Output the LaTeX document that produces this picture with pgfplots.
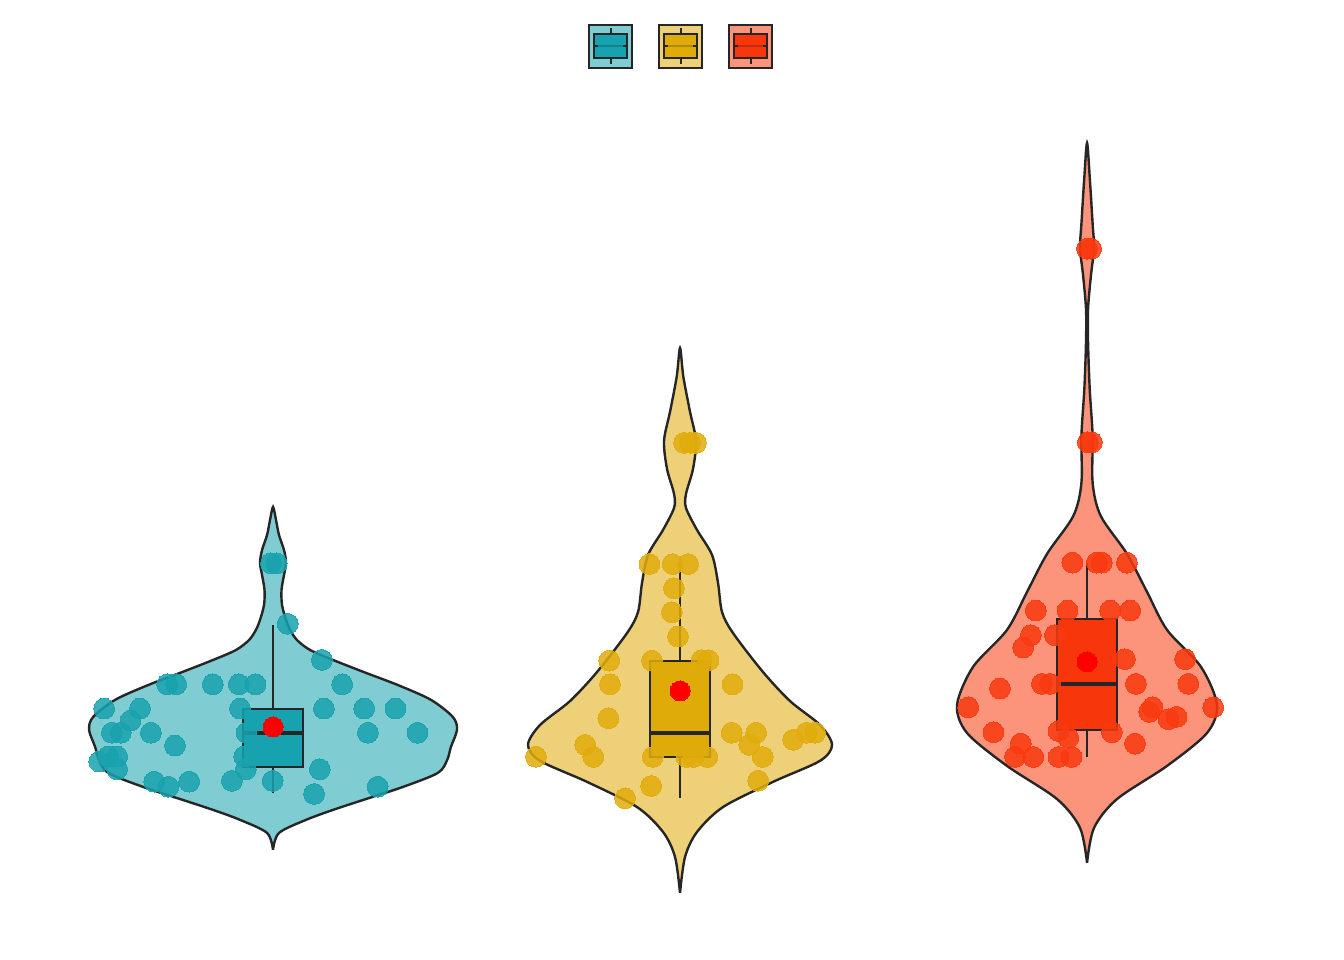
\documentclass[border=0pt]{standalone}
\usepackage{pgfplots}
\pgfplotsset{compat=1.18}
\definecolor{bV}{HTML}{7FCCD2}
\definecolor{bB}{HTML}{16A2AE}
\definecolor{bP}{HTML}{18A2AE}
\definecolor{yV}{HTML}{EED078}
\definecolor{yB}{HTML}{DFAB09}
\definecolor{yP}{HTML}{E0AC0C}
\definecolor{rV}{HTML}{FB947A}
\definecolor{rB}{HTML}{F8360C}
\definecolor{rP}{HTML}{F83A0E}
\definecolor{dk}{HTML}{262626}
\begin{document}
\begin{tikzpicture}
\begin{axis}[scale only axis, width=672pt, height=480pt, hide axis,
 xmin=0.3292, xmax=3.6314, ymin=-6.39, ymax=33.28, clip=false,
 legend columns=3,
 legend style={draw=none, fill=none, at={(0.5125,0.952)}, anchor=center, column sep=4.25pt},
 violin/.style={smooth, draw=dk, line width=1.2pt},
 pts/.style={only marks, mark=*, mark size=5.2pt, mark options={draw=#1, fill=#1, line width=0pt, opacity=0.85}},
 bxs/.style={draw=dk, line width=1.1pt},
 wsk/.style={draw=dk, line width=1.1pt},
 med/.style={draw=dk, line width=2pt}
]
% legend images
\addlegendimage{legend image code/.code={
 \draw[fill=bV,draw=dk,line width=1pt] (0pt,-10.75pt) rectangle (21.5pt,10.75pt);
 \draw[fill=bB,draw=dk,line width=1pt] (2.3pt,-5.8pt) rectangle (19.2pt,5.8pt);
 \draw[dk,line width=1pt] (10.75pt,5.8pt) -- (10.75pt,9.2pt) (10.75pt,-5.8pt) -- (10.75pt,-9.2pt);
 \draw[bB!80!black,line width=1.2pt] (2.3pt,0pt) -- (19.2pt,0pt);
 \draw[dk,line width=1.4pt] (2.3pt,0pt) -- (4.5pt,0pt) (17pt,0pt) -- (19.2pt,0pt);
}}
\addlegendentry{\hbox{}}
\addlegendimage{legend image code/.code={
 \draw[fill=yV,draw=dk,line width=1pt] (0pt,-10.75pt) rectangle (21.5pt,10.75pt);
 \draw[fill=yB,draw=dk,line width=1pt] (2.3pt,-5.8pt) rectangle (19.2pt,5.8pt);
 \draw[dk,line width=1pt] (10.75pt,5.8pt) -- (10.75pt,9.2pt) (10.75pt,-5.8pt) -- (10.75pt,-9.2pt);
 \draw[yB!80!black,line width=1.2pt] (2.3pt,0pt) -- (19.2pt,0pt);
 \draw[dk,line width=1.4pt] (2.3pt,0pt) -- (4.5pt,0pt) (17pt,0pt) -- (19.2pt,0pt);
}}
\addlegendentry{\hbox{}}
\addlegendimage{legend image code/.code={
 \draw[fill=rV,draw=dk,line width=1pt] (0pt,-10.75pt) rectangle (21.5pt,10.75pt);
 \draw[fill=rB,draw=dk,line width=1pt] (2.3pt,-5.8pt) rectangle (19.2pt,5.8pt);
 \draw[dk,line width=1pt] (10.75pt,5.8pt) -- (10.75pt,9.2pt) (10.75pt,-5.8pt) -- (10.75pt,-9.2pt);
 \draw[rB!80!black,line width=1.2pt] (2.3pt,0pt) -- (19.2pt,0pt);
 \draw[dk,line width=1.4pt] (2.3pt,0pt) -- (4.5pt,0pt) (17pt,0pt) -- (19.2pt,0pt);
}}
\addlegendentry{\hbox{}}

% violins
\addplot[violin, fill=bV, forget plot] coordinates {
(1,-1.84)(1.0147,-1.14)(1.081,-0.60)(1.147,-0.19)(1.221,0.22)(1.319,0.76)(1.405,1.34)(1.428,1.88)(1.437,2.41)(1.452,3.12)(1.442,3.65)(1.388,4.36)(1.307,4.97)(1.229,5.47)(1.147,6.01)(1.091,6.42)(1.059,6.83)(1.042,7.25)(1.032,7.66)(1.0221,8.28)(1.0209,8.90)(1.027,9.52)(1.032,10.02)(1.027,10.55)(1.0147,11.17)(1.0074,11.79)(1,12.33)
(0.9926,11.79)(0.9853,11.17)(0.973,10.55)(0.968,10.02)(0.973,9.52)(0.9791,8.90)(0.9779,8.28)(0.968,7.66)(0.958,7.25)(0.941,6.83)(0.909,6.42)(0.853,6.01)(0.771,5.47)(0.693,4.97)(0.612,4.36)(0.558,3.65)(0.548,3.12)(0.563,2.41)(0.572,1.88)(0.595,1.34)(0.681,0.76)(0.779,0.22)(0.853,-0.19)(0.919,-0.60)(0.9853,-1.14)(1,-1.84)};
\addplot[violin, fill=yV, forget plot] coordinates {
(2,-3.62)(2.0123,-2.13)(2.0418,-1.10)(2.1057,-0.07)(2.2285,0.97)(2.344,1.84)(2.3735,2.50)(2.344,3.32)(2.2703,4.31)(2.2039,5.51)(2.1302,7.12)(2.1032,7.99)(2.0934,9.19)(2.0786,10.35)(2.0418,11.38)(2.0147,12.29)(2.0147,12.87)(2.0319,13.90)(2.0393,15.06)(2.0246,16.26)(2.0081,17.72)(2,18.90)
(1.9919,17.72)(1.9754,16.26)(1.9607,15.06)(1.9681,13.90)(1.9853,12.87)(1.9853,12.29)(1.9582,11.38)(1.9214,10.35)(1.9066,9.19)(1.8968,7.99)(1.8698,7.12)(1.7961,5.51)(1.7297,4.31)(1.656,3.32)(1.6265,2.50)(1.656,1.84)(1.7715,0.97)(1.8943,-0.07)(1.9582,-1.10)(1.9877,-2.13)(2,-3.62)};
\addplot[violin, fill=rV, forget plot] coordinates {
(3,-2.38)(3.0172,-0.93)(3.0737,0.26)(3.1966,1.63)(3.2948,2.99)(3.3194,4.15)(3.2801,5.72)(3.1966,7.25)(3.1474,8.82)(3.0983,10.39)(3.0337,11.96)(3.0138,13.32)(3.0138,15.26)(3.0066,17.21)(3.0025,19.15)(3.0025,20.51)(3.0098,21.92)(3.0172,23.03)(3.0138,24.02)(3.0066,25.97)(3,27.37)
(2.9934,25.97)(2.9862,24.02)(2.9828,23.03)(2.9902,21.92)(2.9975,20.51)(2.9975,19.15)(2.9934,17.21)(2.9862,15.26)(2.9862,13.32)(2.9663,11.96)(2.9017,10.39)(2.8526,8.82)(2.8034,7.25)(2.7199,5.72)(2.6806,4.15)(2.7052,2.99)(2.8034,1.63)(2.9263,0.26)(2.9828,-0.93)(3,-2.38)};

% box plots: whiskers, boxes, medians
\addplot[wsk, forget plot] coordinates {(1,0.50)(1,1.59)};
\addplot[wsk, forget plot] coordinates {(1,3.98)(1,7.45)};
\addplot[wsk, forget plot] coordinates {(2,0.30)(2,2.0)};
\addplot[wsk, forget plot] coordinates {(2,5.97)(2,10.0)};
\addplot[wsk, forget plot] coordinates {(3,2.0)(3,3.12)};
\addplot[wsk, forget plot] coordinates {(3,7.70)(3,10.0)};
\addplot[bxs, fill=bB, forget plot] coordinates {(0.9263,1.59)(1.0737,1.59)(1.0737,3.98)(0.9263,3.98)} -- cycle;
\addplot[bxs, fill=yB, forget plot] coordinates {(1.9263,2.0)(2.0737,2.0)(2.0737,5.97)(1.9263,5.97)} -- cycle;
\addplot[bxs, fill=rB, forget plot] coordinates {(2.9263,3.12)(3.0737,3.12)(3.0737,7.70)(2.9263,7.70)} -- cycle;
\addplot[med, forget plot] coordinates {(0.9263,3.0)(1.0737,3.0)};
\addplot[med, forget plot] coordinates {(1.9263,3.0)(2.0737,3.0)};
\addplot[med, forget plot] coordinates {(2.9263,5.0)(3.0737,5.0)};

% jittered points
\addplot[pts=bP, forget plot] coordinates {
(1.009,10.0)(0.995,10.0)(1.036,7.50)(1.120,6.01)(0.740,5.0)(0.762,5.0)(0.852,5.0)(0.916,5.0)(0.957,5.0)(1.170,5.0)
(0.585,4.0)(0.673,4.0)(0.919,4.0)(1.125,4.0)(1.224,4.0)(1.301,4.0)(0.650,3.50)(0.604,3.0)(0.626,3.0)(0.700,3.0)
(0.935,3.0)(1.233,3.0)(1.355,3.0)(0.759,2.47)(0.595,2.02)(0.617,2.02)(0.929,2.02)(0.573,1.81)(0.617,1.49)(0.933,1.49)
(1.115,1.49)(0.708,0.98)(0.794,0.98)(0.899,1.01)(0.999,1.01)(0.743,0.77)(1.257,0.77)(1.101,0.47)};
\addplot[pts=yP, forget plot] coordinates {
(2.010,14.98)(2.025,14.98)(2.039,14.98)(1.925,9.97)(1.982,9.97)(2.020,9.97)(1.985,8.97)(1.980,7.98)(1.995,6.98)
(1.826,5.98)(1.931,5.98)(2.053,6.0)(2.070,6.0)(1.828,5.0)(2.129,5.0)(1.824,3.60)(2.127,3.0)(2.187,3.0)(2.278,2.71)
(2.311,3.0)(2.332,3.0)(1.767,2.50)(2.170,2.50)(1.646,2.01)(1.787,2.0)(1.933,2.0)(2.016,2.0)(2.033,2.0)(2.067,2.0)
(2.203,2.0)(1.929,0.80)(2.192,1.02)(1.865,0.29)};
\addplot[pts=rP, forget plot] coordinates {
(3.0,23.0)(3.010,23.0)(3.012,15.0)(3.002,15.0)(2.964,10.03)(3.024,10.03)(3.036,10.03)(3.098,10.03)
(2.874,8.05)(2.952,8.05)(3.057,8.05)(3.106,8.05)(2.862,7.03)(2.921,7.03)(2.843,6.52)(3.093,6.04)(3.241,6.04)
(2.786,4.83)(2.889,5.02)(2.909,5.02)(3.120,5.02)(3.249,5.02)(2.708,4.05)(3.310,4.05)(3.161,4.05)(3.153,3.86)
(3.200,3.56)(3.220,3.66)(2.770,3.02)(2.930,3.07)(2.954,2.79)(3.061,3.02)(2.837,2.55)(3.118,2.55)
(2.823,2.0)(2.868,2.0)(2.930,2.0)(2.962,2.0)};

% means
\addplot[only marks, mark=*, mark size=5pt, mark options={draw=red, fill=red, line width=0pt}, forget plot] coordinates {(1,3.24)(2,4.73)(3,5.93)};
\end{axis}
\pgfresetboundingbox
\path (current axis.south west) rectangle (current axis.north east);
\end{tikzpicture}
\end{document}
